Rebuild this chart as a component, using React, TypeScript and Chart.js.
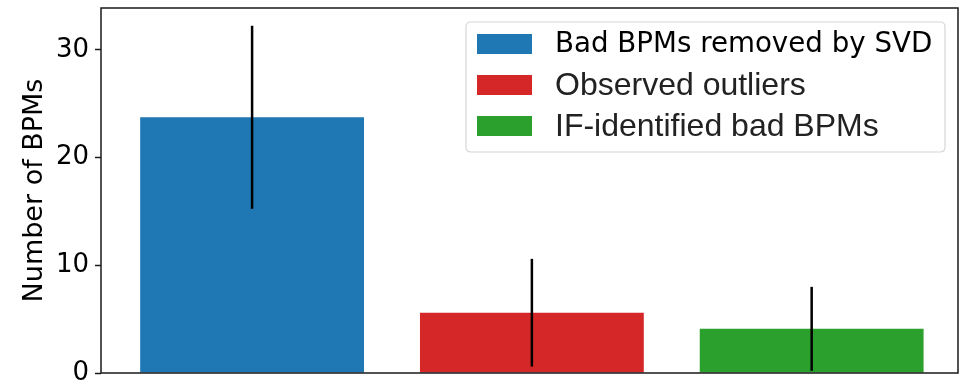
import React, { useEffect, useRef } from "react";
import { Chart, registerables } from "chart.js";

Chart.register(...registerables);

const categories = ["Bad BPMs removed by SVD", "Observed outliers", "IF-identified bad BPMs"];
const categoryPositions = [0, 1, 2];
const values = [23.75, 5.6, 4.1];
const errors = [8.5, 5.0, 3.9];
const colors = ["#1f77b4", "#d62728", "#2ca02c"];
const yTicks = [0, 10, 20, 30];
const legendFonts = ["27.7px 'DejaVu Sans'", "32px 'Liberation Sans'", "32px 'Liberation Sans'"];
const legendTextColors = ["#000", "#222", "#222"];

const overlay = {
  id: "overlay",
  afterDatasetsDraw(chart: any) {
    const { ctx, chartArea, scales } = chart;
    const xs = scales.x;
    const ys = scales.y;
    ctx.save();
    // error bars
    ctx.strokeStyle = "#000";
    ctx.lineWidth = 2.5;
    values.forEach((v, i) => {
      const px = xs.getPixelForValue(categoryPositions[i]);
      const y1 = ys.getPixelForValue(v - errors[i]);
      const y2 = ys.getPixelForValue(v + errors[i]);
      ctx.beginPath();
      ctx.moveTo(px, y1);
      ctx.lineTo(px, y2);
      ctx.stroke();
    });
    // frame
    ctx.strokeStyle = "#1a1a1a";
    ctx.lineWidth = 1.5;
    ctx.strokeRect(chartArea.left, chartArea.top, chartArea.right - chartArea.left, chartArea.bottom - chartArea.top);
    // legend
    const bx = 466, by = 22, bw = 479, bh = 130, r = 5;
    ctx.beginPath();
    ctx.moveTo(bx + r, by);
    ctx.lineTo(bx + bw - r, by);
    ctx.quadraticCurveTo(bx + bw, by, bx + bw, by + r);
    ctx.lineTo(bx + bw, by + bh - r);
    ctx.quadraticCurveTo(bx + bw, by + bh, bx + bw - r, by + bh);
    ctx.lineTo(bx + r, by + bh);
    ctx.quadraticCurveTo(bx, by + bh, bx, by + bh - r);
    ctx.lineTo(bx, by + r);
    ctx.quadraticCurveTo(bx, by, bx + r, by);
    ctx.closePath();
    ctx.fillStyle = "rgba(255,255,255,0.85)";
    ctx.fill();
    ctx.strokeStyle = "#d6d6d6";
    ctx.lineWidth = 1.2;
    ctx.stroke();
    categories.forEach((label, i) => {
      const cy = 44 + i * 41;
      ctx.fillStyle = colors[i];
      ctx.fillRect(477, cy - 10, 55, 20);
      ctx.fillStyle = legendTextColors[i];
      ctx.font = legendFonts[i];
      ctx.textAlign = "left";
      ctx.textBaseline = "middle";
      ctx.fillText(label, 555, cy + 1);
    });
    ctx.restore();
  },
};

export default function App() {
  const ref = useRef<HTMLCanvasElement>(null);
  useEffect(() => {
    document.body.style.margin = "0";
    const canvas = ref.current!;
    const chart = new Chart(canvas, {
      type: "bar",
      data: {
        datasets: [
          {
            data: values.map((v, i) => ({ x: categoryPositions[i], y: v })),
            backgroundColor: colors,
            borderWidth: 0,
            categoryPercentage: 0.8,
            barPercentage: 1.0,
          },
        ],
      },
      options: {
        animation: false,
        responsive: false,
        maintainAspectRatio: false,
        layout: { padding: { left: 0, right: 6, top: 8, bottom: 0 } },
        plugins: { legend: { display: false }, tooltip: { enabled: false } },
        scales: {
          x: {
            type: "linear",
            min: -0.54,
            max: 2.523,
            offset: false,
            afterBuildTicks: (s: any) => {
              s.ticks = categoryPositions.map((v) => ({ value: v }));
            },
            grid: { display: false, drawTicks: false },
            border: { display: false },
            ticks: { display: false },
            afterFit: (s: any) => {
              s.height = 9;
              s.paddingLeft = 0;
              s.paddingRight = 0;
            },
          },
          y: {
            min: 0,
            max: 33.9,
            afterBuildTicks: (s: any) => {
              s.ticks = yTicks.map((v) => ({ value: v }));
            },
            grid: { drawOnChartArea: false, drawTicks: true, tickLength: 6, color: "#1a1a1a", tickWidth: 1.5 },
            border: { display: false },
            ticks: {
              padding: 6,
              color: "#000",
              font: { family: "'DejaVu Sans'", size: 26 },
            },
            title: {
              display: true,
              text: "Number of BPMs",
              color: "#000",
              font: { family: "'DejaVu Sans'", size: 27 },
              padding: { top: 19, bottom: 0 },
            },
            afterFit: (s: any) => {
              s.width = 101;
              s.paddingTop = 0;
              s.paddingBottom = 0;
            },
          },
        },
      },
      plugins: [overlay],
    });
    return () => chart.destroy();
  }, []);
  return (
    <div style={{ width: 964, height: 382 }}>
      <canvas ref={ref} width={964} height={382} style={{ display: "block" }} />
    </div>
  );
}
